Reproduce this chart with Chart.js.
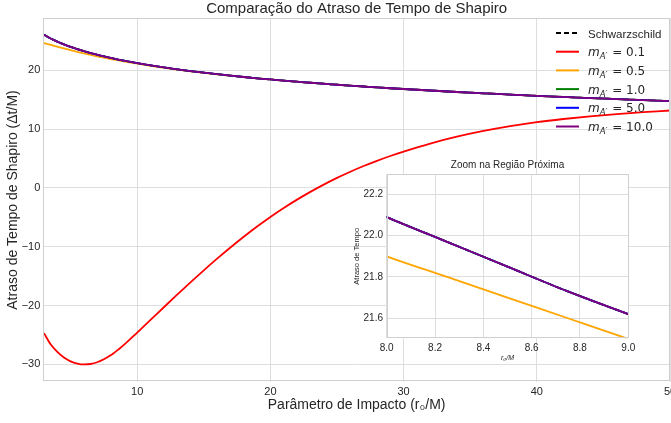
<!DOCTYPE html>
<html>
<head>
<meta charset="utf-8">
<script src="https://cdn.jsdelivr.net/npm/chart.js@4"></script>
<style>
    html, body { margin: 0; padding: 0; background: #fff; }
    #wrap { position: relative; width: 671px; height: 423px; }
    #main { position: absolute; left: 0; top: 0; }
    #inset { position: absolute; left: 340px; top: 155px; }
</style>
</head>
<body>
<div id="wrap">
    <canvas id="main" width="671" height="423"></canvas>
    <canvas id="inset" width="300" height="215"></canvas>
</div>
<script>
// impact parameter r0/M
const rValues = [3, 3.5, 4, 4.5, 5, 5.5, 6, 6.5, 7, 7.5, 8, 8.25, 8.5, 8.75, 9,
    10, 11, 12, 13, 14, 15, 16, 17, 18, 19, 20, 21, 22, 23, 24, 25, 26, 27, 28, 29, 30,
    32, 34, 36, 38, 40, 42, 44, 46, 48, 50];

const tSchwarzschild = [26.02, 25.40, 24.87, 24.39, 23.97, 23.59, 23.24, 22.92, 22.63, 22.35, 22.09, 21.97, 21.85, 21.73, 21.62,
    21.20, 20.82, 20.47, 20.15, 19.85, 19.58, 19.32, 19.08, 18.85, 18.63, 18.43, 18.23, 18.05, 17.87, 17.70, 17.53, 17.38, 17.23, 17.08, 16.94, 16.81,
    16.55, 16.30, 16.08, 15.86, 15.65, 15.46, 15.27, 15.10, 14.93, 14.76];
const tM01 = [-24.7, -26.6, -27.9, -28.85, -29.5, -29.88, -30.03, -29.95, -29.65, -29.15, -28.47, -28.07, -27.64, -27.19, -26.71,
    -24.6, -22.46, -20.3, -18.16, -16.06, -14.02, -12.04, -10.14, -8.32, -6.58, -4.94, -3.42, -2.00, -0.68, 0.55, 1.69, 2.74, 3.71, 4.60, 5.42, 6.17,
    7.53, 8.69, 9.67, 10.49, 11.17, 11.71, 12.17, 12.55, 12.87, 13.15];
const tM05 = [24.62, 24.30, 24.02, 23.71, 23.42, 23.14, 22.87, 22.61, 22.37, 22.13, 21.90, 21.80, 21.70, 21.60, 21.50,
    21.11, 20.75, 20.42, 20.11, 19.82, 19.56, 19.30, 19.07, 18.84, 18.62, 18.43, 18.23, 18.05, 17.87, 17.70, 17.53, 17.38, 17.23, 17.08, 16.94, 16.81,
    16.55, 16.30, 16.08, 15.86, 15.65, 15.46, 15.27, 15.10, 14.93, 14.76];
const tM10 = tSchwarzschild.slice();
const tM50 = tSchwarzschild.slice();
const tM100 = tSchwarzschild.slice();

const massValues = [0.1, 0.5, 1.0, 5.0, 10.0];
const seriesColors = ['#000000', '#ff0000', '#ffa500', '#008000', '#0000ff', '#800080'];

const xTicks = [10, 20, 30, 40, 50];
const yTicks = [-30, -20, -10, 0, 10, 20];
const insetXTicks = [8.0, 8.2, 8.4, 8.6, 8.8, 9.0];
const insetYTicks = [21.6, 21.8, 22.0, 22.2];

const FONT = "'Liberation Sans', Arial, sans-serif";
const MATH = "'DejaVu Sans', sans-serif";
const TEXT = '#262626';
const GRID = '#dedede';
const FRAME = '#cfcfcf';

function makeDatasets(width) {
    const series = [tSchwarzschild, tM01, tM05, tM10, tM50, tM100];
    return series.map((vals, i) => ({
        data: rValues.map((r, j) => ({ x: r, y: vals[j] })),
        borderColor: seriesColors[i],
        borderWidth: width,
        borderDash: i === 0 ? [6, 3] : [],
        pointRadius: 0,
        fill: false,
        cubicInterpolationMode: 'monotone',
        order: series.length - i
    }));
}

function fixTicks(list) {
    return s => { s.ticks = list.map(v => ({ value: v })); };
}

function fixSize(size, horizontal) {
    return s => {
        if (horizontal) s.height = size; else s.width = size;
        s.paddingLeft = 0; s.paddingRight = 0; s.paddingTop = 0; s.paddingBottom = 0;
    };
}

function minus(v, digits) {
    const t = digits ? Math.abs(v).toFixed(digits) : String(Math.abs(v));
    return v < 0 ? '\u2212' + t : t;
}

const framePlugin = {
    id: 'frame',
    beforeDraw(chart, args, opts) {
        if (!opts.fill) return;
        const { ctx, chartArea: { left, right, top, bottom } } = chart;
        ctx.save();
        ctx.fillStyle = opts.fill;
        ctx.fillRect(left, top, right - left, bottom - top);
        ctx.restore();
    },
    afterDatasetsDraw(chart) {
        const { ctx, chartArea: { left, right, top, bottom } } = chart;
        ctx.save();
        ctx.strokeStyle = FRAME;
        ctx.lineWidth = 1;
        ctx.strokeRect(Math.round(left) + 0.5, Math.round(top) + 0.5, Math.round(right - left) - 1, Math.round(bottom - top) - 1);
        ctx.restore();
    }
};

// legend with m_{A'} subscripts, drawn by hand
const legendPlugin = {
    id: 'mathLegend',
    afterDraw(chart) {
        const { ctx, chartArea: { right, top } } = chart;
        const x0 = right - 114, x1 = right - 91, tx = right - 82;
        const rowH = 18.7;
        ctx.save();
        for (let i = 0; i < seriesColors.length; i++) {
            const y = top + 14.7 + i * rowH;
            ctx.beginPath();
            ctx.strokeStyle = seriesColors[i];
            ctx.lineWidth = 2;
            ctx.setLineDash(i === 0 ? [5, 3] : []);
            ctx.moveTo(x0, y);
            ctx.lineTo(x1, y);
            ctx.stroke();
            ctx.setLineDash([]);
            ctx.fillStyle = TEXT;
            ctx.textBaseline = 'alphabetic';
            ctx.textAlign = 'left';
            if (i === 0) {
                ctx.font = '11.5px ' + FONT;
                ctx.fillText('Schwarzschild', tx, y + 4.5);
            } else {
                let x = tx;
                ctx.font = 'italic 12px ' + MATH;
                ctx.fillText('m', x, y + 4.5);
                x += ctx.measureText('m').width;
                ctx.font = 'italic 8.5px ' + MATH;
                ctx.fillText('A\u2032', x, y + 7.5);
                x += ctx.measureText('A\u2032').width + 1;
                ctx.font = '12px ' + MATH;
                ctx.fillText(' = ' + massValues[i - 1].toFixed(1), x, y + 4.5);
            }
        }
        ctx.restore();
    }
};

new Chart(document.getElementById('main'), {
    type: 'line',
    data: { datasets: makeDatasets(1.8) },
    options: {
        responsive: false,
        animation: false,
        events: [],
        layout: { padding: { left: 0, right: 1, top: 0, bottom: 0 } },
        plugins: {
            legend: { display: false },
            tooltip: { enabled: false },
            frame: {},
            title: {
                display: true,
                text: 'Comparação do Atraso de Tempo de Shapiro',
                fullSize: false,
                color: TEXT,
                font: { family: FONT, size: 15, weight: 'normal' },
                padding: { top: 0, bottom: 0.3 }
            }
        },
        scales: {
            x: {
                type: 'linear', min: 2.95, max: 50,
                afterBuildTicks: fixTicks(xTicks),
                afterFit: fixSize(41.3, true),
                grid: { color: GRID, drawTicks: false },
                border: { display: false },
                ticks: { padding: 4, color: TEXT, maxRotation: 0, autoSkip: false,
                    font: { family: FONT, size: 11 }, callback: v => minus(v) },
                title: { display: true, text: 'Parâmetro de Impacto (r\u2080/M)', color: TEXT,
                    font: { family: FONT, size: 14 }, padding: { top: 0, bottom: 9.6 } }
            },
            y: {
                type: 'linear', min: -32.96, max: 28.83,
                afterBuildTicks: fixTicks(yTicks),
                afterFit: fixSize(43.3, false),
                grid: { color: GRID, drawTicks: false },
                border: { display: false },
                ticks: { padding: 3, color: TEXT, autoSkip: false,
                    font: { family: FONT, size: 11 }, callback: v => minus(v) },
                title: { display: true, text: 'Atraso de Tempo de Shapiro (\u0394t/M)', color: TEXT,
                    font: { family: FONT, size: 14 }, padding: { top: 4.5, bottom: 0 } }
            }
        }
    },
    plugins: [framePlugin, legendPlugin]
});

new Chart(document.getElementById('inset'), {
    type: 'line',
    data: { datasets: makeDatasets(1.8) },
    options: {
        responsive: false,
        animation: false,
        events: [],
        layout: { padding: { left: 0, right: 11.7, top: 0, bottom: 0 } },
        plugins: {
            legend: { display: false },
            tooltip: { enabled: false },
            frame: { fill: '#ffffff' },
            title: {
                display: true,
                text: 'Zoom na Região Próxima',
                fullSize: false,
                color: TEXT,
                font: { family: FONT, size: 10, weight: 'normal' },
                padding: { top: 4, bottom: 3.3 }
            }
        },
        scales: {
            x: {
                type: 'linear', min: 8, max: 9,
                afterBuildTicks: fixTicks(insetXTicks),
                afterFit: fixSize(31.7, true),
                grid: { color: GRID, drawTicks: false },
                border: { display: false },
                ticks: { padding: 3.5, color: TEXT, maxRotation: 0, autoSkip: false,
                    font: { family: FONT, size: 10 }, callback: v => minus(v, 1) },
                title: { display: true, text: 'r\u2080/M', color: TEXT,
                    font: { family: FONT, size: 7, style: 'italic' }, padding: { top: 0, bottom: 7.8 } }
            },
            y: {
                type: 'linear', min: 21.503, max: 22.297,
                afterBuildTicks: fixTicks(insetYTicks),
                afterFit: fixSize(46.7, false),
                grid: { color: GRID, drawTicks: false },
                border: { display: false },
                ticks: { padding: 3.7, color: TEXT, autoSkip: false,
                    font: { family: FONT, size: 10 }, callback: v => minus(v, 1) },
                title: { display: true, text: 'Atraso de Tempo', color: TEXT,
                    font: { family: FONT, size: 7.5 }, padding: { top: 12.8, bottom: 0 } }
            }
        }
    },
    plugins: [framePlugin]
});
</script>
</body>
</html>
